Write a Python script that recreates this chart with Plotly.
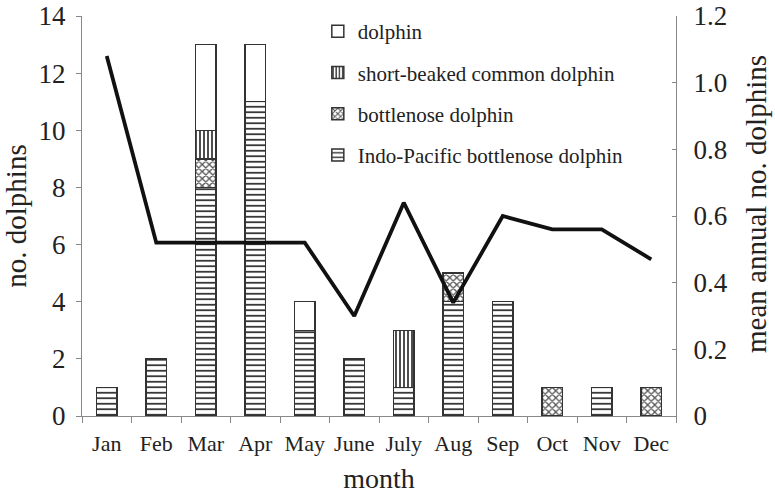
import plotly.graph_objects as go

months = ["Jan", "Feb", "Mar", "Apr", "May", "June", "July", "Aug", "Sep", "Oct", "Nov", "Dec"]
indo_pacific = [1, 2, 8, 11, 3, 2, 1, 4, 4, 0, 1, 0]
bottlenose = [0, 0, 1, 0, 0, 0, 0, 1, 0, 1, 0, 1]
short_beaked = [0, 0, 1, 0, 0, 0, 2, 0, 0, 0, 0, 0]
dolphin = [0, 0, 3, 2, 1, 0, 0, 0, 0, 0, 0, 0]
mean_annual = [1.08, 0.52, 0.52, 0.52, 0.52, 0.30, 0.64, 0.34, 0.60, 0.56, 0.56, 0.47]

left_ticks = [0, 2, 4, 6, 8, 10, 12, 14]
right_ticks = [0, 0.2, 0.4, 0.6, 0.8, 1.0, 1.2]
right_ticktext = ["0", "0.2", "0.4", "0.6", "0.8", "1.0", "1.2"]

FONT = "Liberation Serif"
TXT = "#222222"
OUT = "#333333"
AX = "#888888"

fig = go.Figure()

def bar(name, vals, pattern, rank):
    fig.add_trace(go.Bar(
        x=months, y=vals, name=name, legendgroup=name, legendrank=rank,
        marker=dict(color="white", line=dict(color=OUT, width=1.5), pattern=pattern),
    ))

bar("Indo-Pacific bottlenose dolphin", indo_pacific,
    dict(shape="-", size=5.5, solidity=0.3, fgcolor="#222222", bgcolor="white", fillmode="replace"), 4)
bar("bottlenose dolphin", bottlenose,
    dict(shape="x", size=5, solidity=0.45, fgcolor="#555555", bgcolor="white", fillmode="replace"), 3)
bar("short-beaked common dolphin", short_beaked,
    dict(shape="|", size=4, solidity=0.4, fgcolor="#222222", bgcolor="white", fillmode="replace"), 2)
bar("dolphin", dolphin, dict(shape=""), 1)

fig.add_trace(go.Scatter(
    x=months, y=mean_annual, yaxis="y2", mode="lines",
    line=dict(color="#111111", width=3.8), showlegend=False, name="mean annual",
))

fig.update_layout(
    width=775, height=495,
    margin=dict(l=82, r=99, t=15, b=79),
    paper_bgcolor="white", plot_bgcolor="white",
    font=dict(family=FONT, color=TXT, size=20),
    barmode="stack", bargap=0.58,
    legend=dict(x=0.397, y=1.01, xanchor="left", yanchor="top",
                traceorder="grouped", tracegroupgap=11, itemwidth=30,
                font=dict(family=FONT, size=21, color=TXT), bgcolor="rgba(0,0,0,0)"),
    xaxis=dict(
        showline=True, linecolor=AX, linewidth=1, automargin=False,
        ticks="outside", tickson="boundaries", ticklen=6, tickcolor=AX,
        ticklabelstandoff=8,
        tickfont=dict(family=FONT, size=22, color=TXT), showgrid=False,
        title=dict(text="month", font=dict(family=FONT, size=28, color=TXT), standoff=12),
    ),
    yaxis=dict(
        range=[0, 14], tickvals=left_ticks, showline=True, linecolor=AX, automargin=False,
        ticks="outside", ticklen=5, tickcolor=AX, showgrid=False, zeroline=False,
        ticklabelstandoff=5,
        tickfont=dict(family=FONT, size=27, color=TXT),
        title=dict(text="no. dolphins", font=dict(family=FONT, size=29, color=TXT), standoff=3),
    ),
    yaxis2=dict(
        range=[0, 1.2], tickvals=right_ticks, ticktext=right_ticktext, automargin=False,
        overlaying="y", side="right", showline=True, linecolor=AX,
        ticks="inside", ticklen=4, tickcolor=AX, showgrid=False, zeroline=False,
        ticklabelstandoff=11,
        tickfont=dict(family=FONT, size=27, color=TXT),
    ),
    annotations=[dict(
        text="mean annual no. dolphins", textangle=-90,
        xref="paper", yref="paper", x=1, y=0.53, xanchor="center", yanchor="middle",
        xshift=80, showarrow=False, font=dict(family=FONT, size=29, color=TXT),
    )],
)

fig.write_html("out.html", config={"displayModeBar": False},
               post_script="document.body.style.margin='0px';")
